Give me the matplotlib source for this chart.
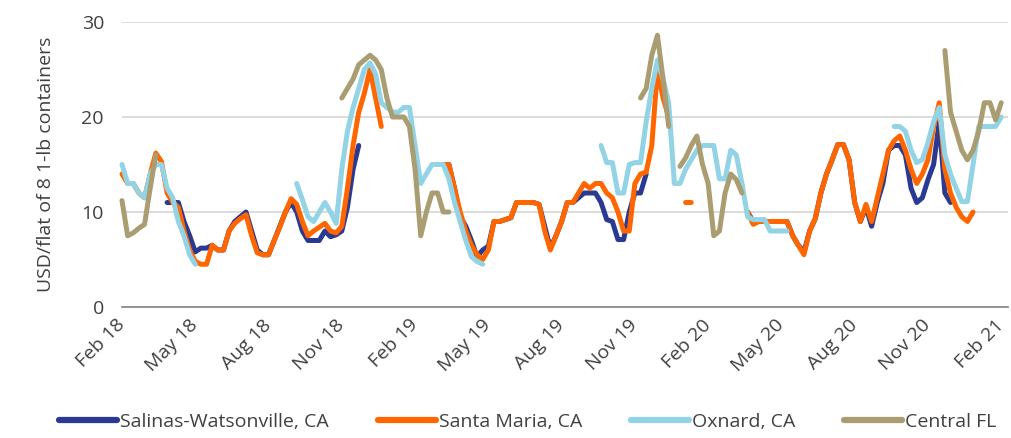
import numpy as np
import matplotlib
matplotlib.use("Agg")
import matplotlib.pyplot as plt

nan = np.nan

# weekly strawberry prices, first week Feb 2018 .. first week Feb 2021 (157 weeks)
salinas = [nan] * 8 + [
    11, 11, 11, 9, 7.5, 5.8, 6.2, 6.2, 6.5, 6, 6, 8, 9, 9.5, 10, 8, 6, 5.5, 5.5, 7,
    8.5, 10, 11, 10, 8, 7, 7, 7, 8, 7.4, 7.6, 8, 10.5, 14.5, 17] + [nan] * 15 + [
    15, 12.5, 9.5, 8.5, 7, 5.3, 6, 6.4, 9, 9, 9.2, 9.4, 11, 11, 11, 11, 10.8, 8.5, 6.2, 7.5,
    9, 11, 11, 11.5, 12, 12, 12, 11, 9.2, 9, 7.1, 7.1, 10, 12, 12, 14] + [nan] * 17 + [
    10, 9, 9, 9, 9, 9, 9, 9, 7.5, 6.5, 5.8, 8, 9.3, 12, 14, 15.5, 17.1, 17.1, 15.5, 11,
    9, 10.5, 8.5, 11, 13, 16.5, 17, 17, 16, 12.5, 11, 11.5, 13.4, 15, 19.5, 12, 11] + [nan] * 9

santa_maria = [
    14, 13, 13, 12, 11.5, 14, 16.2, 15.3, 12, 11, 10.5, 8, 6, 4.8, 4.5, 4.5, 6.5, 6, 6, 8,
    8.8, 9.3, 9.7, 7.5, 5.7, 5.5, 5.5, 7, 8.4, 10, 11.4, 10.8, 9, 7.5, 8, 8.4, 8.8, 8, 7.8, 8.5,
    12.5, 17, 20.5, 22.5, 25, 22, 19] + [nan] * 10 + [
    15, 15, 12.5, 10, 8, 6.5, 5.5, 5, 6, 9, 9, 9.2, 9.4, 11, 11, 11, 11, 10.8, 8, 6,
    7.5, 9, 11, 11, 12, 13, 12.5, 13, 13, 12, 11.5, 10, 8, 8, 13, 14, 14.2, 17, 25, 22,
    20] + [nan] * 2 + [11, 11] + [nan] * 9 + [
    10, 8.7, 9, 9, 9, 9, 9, 9, 7.5, 6.5, 5.5, 8, 9.3, 12, 14, 15.5, 17.1, 17.1, 15.5, 11,
    9, 10.8, 9, 11.5, 14, 16.5, 17.5, 18, 16.5, 14.5, 13, 14, 15.5, 19, 21.5, 14.5, 12, 10.5, 9.5, 9,
    10] + [nan] * 5

oxnard = [
    15, 13, 13, 12, 11.5, 14, 15, 15, 12.5, 11.5, 9, 7.5, 5.5, 4.5] + [nan] * 17 + [
    13, 11.3, 9.5, 9, 10, 11, 10, 8.8, 14.5, 18.5, 21, 23, 25, 25.7, 24.5, 21.5, 21, 20.5, 20.5, 21,
    21, 17, 13, 14, 15, 15, 15, 13.5, 11, 9, 7, 5.3, 4.8, 4.5] + [nan] * 20 + [
    17, 15.2, 15.2, 12, 12, 15, 15.2, 15.2, 19.5, 23, 26, 24, 21.5, 13, 13, 14.5, 15.5, 16.5, 17, 17,
    17, 13.5, 13.5, 16.5, 16, 13, 9.5, 9.2, 9.2, 9.2, 8, 8, 8, 8] + [nan] * 18 + [
    19, 19, 18.5, 16.5, 15.2, 15.5, 17.3, 19.5, 21, 16, 14, 12.5, 11.1, 11.1, 15, 19, 19, 19, 19, 20]

central_fl = [
    11.2, 7.5, 7.8, 8.3, 8.7, 12.5, 16] + [nan] * 32 + [
    22, 23, 24, 25.5, 26, 26.5, 26, 25, 22, 20, 20, 20, 19, 14.5, 7.5, 10, 12, 12, 10, 10] + [nan] * 33 + [
    22, 23, 26.5, 28.6, 24, 19, nan,
    14.8, 15.7, 17, 18, 15, 13, 7.5, 8, 12, 14, 13.4, 12] + [nan] * 35 + [
    27, 20.5, 18.5, 16.5, 15.5, 16.5, 18.5, 21.5, 21.5, 19.7, 21.5]

series = ["Salinas-Watsonville, CA", "Santa Maria, CA", "Oxnard, CA", "Central FL"]
colors = ["#2A3A92", "#FF6600", "#92D3E5", "#AB9D72"]
tick_labels = ["Feb 18", "May 18", "Aug 18", "Nov 18", "Feb 19", "May 19", "Aug 19",
               "Nov 19", "Feb 20", "May 20", "Aug 20", "Nov 20", "Feb 21"]

plt.rcParams["font.family"] = ["Open Sans", "DejaVu Sans"]
txt = "#404040"

fig = plt.figure(figsize=(10.11, 4.38), dpi=100)
ax = fig.add_axes([122 / 1011, 1 - 307 / 438, 886 / 1011, 285 / 438])

for name, vals, c in zip(series, [salinas, santa_maria, oxnard, central_fl], colors):
    ax.plot(np.arange(len(vals)), vals, color=c, lw=3.6, label=name, clip_on=False,
            solid_joinstyle="round", solid_capstyle="round")

ax.set_ylim(0, 30)
ax.set_xlim(0, 157.2)
ax.set_yticks([0, 10, 20, 30])
ax.set_xticks(np.arange(0, 157, 13))
ax.set_xticklabels(tick_labels, rotation=45, ha="right", va="center", rotation_mode="anchor")
ax.grid(axis="y", color="#d9d9d9", lw=1.3)
ax.set_axisbelow(True)
for s in ["top", "right", "left"]:
    ax.spines[s].set_visible(False)
ax.spines["bottom"].set_color("#8c8c8c")
ax.spines["bottom"].set_linewidth(1.3)
ax.tick_params(axis="both", length=0, labelsize=14, colors=txt)
ax.tick_params(axis="y", pad=13)
ax.tick_params(axis="x", pad=11)
ax.set_ylabel("USD/flat of 8 1-lb containers", fontsize=14, color=txt, labelpad=19)

leg = fig.legend(loc="center", bbox_to_anchor=(0.522, 0.037), ncol=4, frameon=False,
                 fontsize=14, handlelength=3.0, handletextpad=0.15, columnspacing=2.5,
                 labelcolor=txt)
for ln in leg.get_lines():
    ln.set_linewidth(4.5)

fig.savefig("out.png", dpi=100)
